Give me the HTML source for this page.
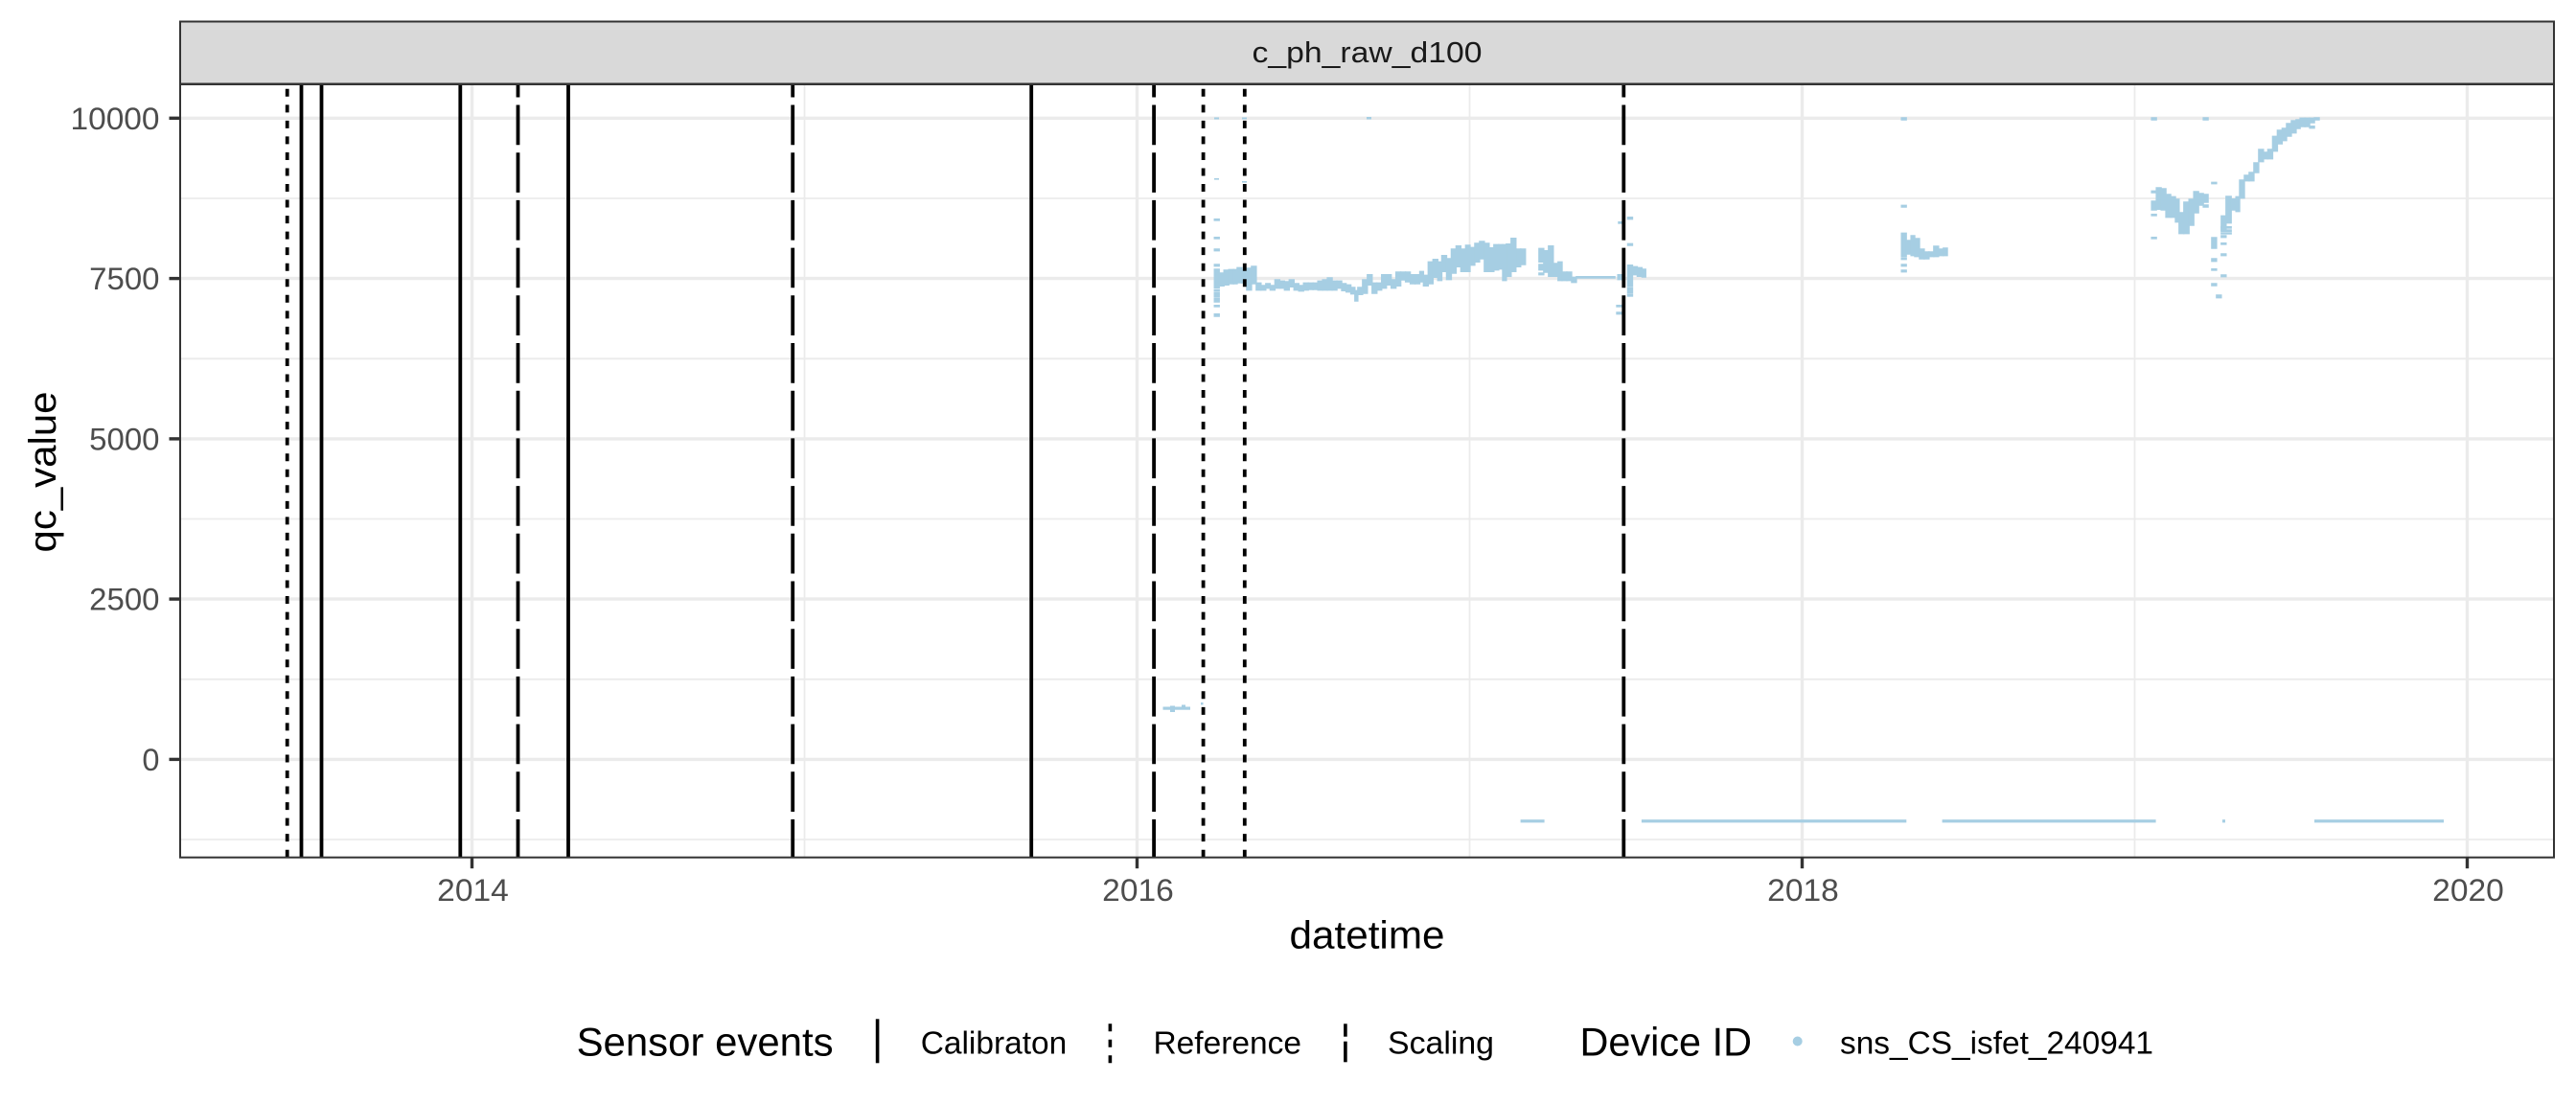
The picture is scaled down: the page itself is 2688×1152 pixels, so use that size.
<!DOCTYPE html>
<html><head><meta charset="utf-8"><style>
html,body{margin:0;padding:0;background:#fff;}
svg{display:block;}
text{font-family:"Liberation Sans",Arial,sans-serif;}
.d rect{stroke:#A6CEE3;stroke-width:1.4px;vector-effect:non-scaling-stroke;}
</style></head><body>
<svg width="2688" height="1152" viewBox="0 0 2688 1152" xmlns="http://www.w3.org/2000/svg">
<rect x="0" y="0" width="2688" height="1152" fill="#fff"/>
<g stroke="#EBEBEB" stroke-width="1.8">
<line x1="188" x2="2665" y1="207" y2="207"/>
<line x1="188" x2="2665" y1="374.3" y2="374.3"/>
<line x1="188" x2="2665" y1="541.5" y2="541.5"/>
<line x1="188" x2="2665" y1="708.8" y2="708.8"/>
<line x1="188" x2="2665" y1="876" y2="876"/>
<line x1="839.5" x2="839.5" y1="88" y2="894.7"/>
<line x1="1533.5" x2="1533.5" y1="88" y2="894.7"/>
<line x1="2227.5" x2="2227.5" y1="88" y2="894.7"/>
</g>
<g stroke="#EBEBEB" stroke-width="3.4">
<line x1="188" x2="2665" y1="123.3" y2="123.3"/>
<line x1="188" x2="2665" y1="290.6" y2="290.6"/>
<line x1="188" x2="2665" y1="457.9" y2="457.9"/>
<line x1="188" x2="2665" y1="625.1" y2="625.1"/>
<line x1="188" x2="2665" y1="792.4" y2="792.4"/>
<line x1="492.5" x2="492.5" y1="88" y2="894.7"/>
<line x1="1186.5" x2="1186.5" y1="88" y2="894.7"/>
<line x1="1880.5" x2="1880.5" y1="88" y2="894.7"/>
<line x1="2574.5" x2="2574.5" y1="88" y2="894.7"/>
</g>
<g fill="#A6CEE3">
<rect x="1213.5" y="737.5" width="28.5" height="3.2"/>
<rect x="1221" y="736.5" width="5" height="6.5"/>
<rect x="1233" y="735.5" width="4" height="4.5"/>
<rect x="1253" y="733" width="2.5" height="2.5"/>
<rect x="1586.6" y="855.2" width="25" height="3.2"/>
<rect x="1712.9" y="855.2" width="276.4" height="3.2"/>
<rect x="2026.6" y="855.2" width="223" height="3.2"/>
<rect x="2319" y="855.2" width="3" height="3.2"/>
<rect x="2415" y="855.2" width="135" height="3.2"/>
<rect x="1426" y="122" width="5" height="2.5"/>
<rect x="1267" y="122.5" width="5" height="2"/>
<rect x="1296" y="122.5" width="5" height="2"/>
<rect x="1267" y="186" width="5" height="1.6"/>
<rect x="1296" y="189" width="5" height="1.6"/>
<g class="d" transform="translate(1180,220) scale(0.38265,0.33333)">
<rect x="228" y="183" width="13" height="59"/>
<rect x="228" y="168" width="13" height="5"/>
<rect x="228" y="120" width="13" height="5"/>
<rect x="228" y="83" width="13" height="4"/>
<rect x="228" y="26" width="13" height="4"/>
<rect x="228" y="248" width="13" height="4"/>
<rect x="228" y="257" width="13" height="5"/>
<rect x="228" y="265" width="13" height="5"/>
<rect x="228" y="275" width="13" height="10"/>
<rect x="228" y="296" width="13" height="4"/>
<rect x="228" y="323" width="13" height="7"/>
<rect x="241" y="195" width="13" height="40"/>
<rect x="254" y="186" width="13" height="46"/>
<rect x="267" y="184" width="13" height="44"/>
<rect x="280" y="184" width="10" height="44"/>
<rect x="290" y="178" width="13" height="47"/>
<rect x="303" y="185" width="13" height="40"/>
<rect x="316" y="180" width="13" height="68"/>
<rect x="329" y="174" width="13" height="54"/>
<rect x="342" y="226" width="13" height="22"/>
<rect x="355" y="234" width="13" height="14"/>
<rect x="368" y="228" width="12" height="14"/>
<rect x="380" y="234" width="13" height="14"/>
<rect x="393" y="216" width="13" height="26"/>
<rect x="406" y="220" width="13" height="22"/>
<rect x="419" y="222" width="13" height="26"/>
<rect x="432" y="216" width="13" height="22"/>
<rect x="445" y="228" width="13" height="20"/>
<rect x="458" y="234" width="13" height="17"/>
<rect x="471" y="226" width="13" height="22"/>
<rect x="484" y="226" width="13" height="20"/>
<rect x="497" y="226" width="13" height="20"/>
<rect x="510" y="220" width="13" height="28"/>
<rect x="523" y="216" width="13" height="32"/>
<rect x="536" y="210" width="13" height="38"/>
<rect x="549" y="220" width="13" height="28"/>
<rect x="562" y="220" width="13" height="22"/>
<rect x="575" y="228" width="12" height="22"/>
<rect x="587" y="232" width="13" height="22"/>
<rect x="600" y="240" width="11" height="20"/>
<rect x="611" y="250" width="8" height="32"/>
<rect x="619" y="240" width="13" height="22"/>
<rect x="632" y="216" width="13" height="42"/>
<rect x="645" y="200" width="13" height="32"/>
<rect x="658" y="226" width="13" height="32"/>
<rect x="671" y="226" width="13" height="22"/>
<rect x="684" y="200" width="13" height="42"/>
<rect x="697" y="200" width="13" height="32"/>
<rect x="710" y="216" width="13" height="26"/>
<rect x="723" y="192" width="13" height="43"/>
<rect x="736" y="192" width="13" height="24"/>
<rect x="749" y="192" width="13" height="30"/>
<rect x="762" y="200" width="13" height="28"/>
<rect x="775" y="200" width="13" height="28"/>
<rect x="788" y="190" width="10" height="32"/>
<rect x="798" y="202" width="13" height="33"/>
<rect x="811" y="160" width="13" height="68"/>
<rect x="824" y="152" width="13" height="56"/>
<rect x="837" y="160" width="11" height="58"/>
<rect x="848" y="140" width="13" height="50"/>
<rect x="861" y="150" width="13" height="65"/>
<rect x="874" y="120" width="13" height="75"/>
<rect x="887" y="110" width="13" height="65"/>
<rect x="900" y="120" width="13" height="70"/>
<rect x="913" y="108" width="12" height="82"/>
<rect x="925" y="115" width="13" height="55"/>
<rect x="938" y="102" width="13" height="58"/>
<rect x="951" y="96" width="13" height="54"/>
<rect x="964" y="102" width="13" height="88"/>
<rect x="977" y="116" width="13" height="74"/>
<rect x="990" y="106" width="13" height="79"/>
<rect x="1003" y="106" width="11" height="76"/>
<rect x="1014" y="106" width="10" height="112"/>
<rect x="1024" y="104" width="13" height="101"/>
<rect x="1037" y="86" width="13" height="104"/>
<rect x="1050" y="120" width="13" height="55"/>
<rect x="1063" y="120" width="13" height="48"/>
<rect x="1113" y="118" width="13" height="42"/>
<rect x="1113" y="168" width="13" height="17"/>
<rect x="1113" y="195" width="13" height="5"/>
<rect x="1126" y="125" width="13" height="67"/>
<rect x="1139" y="110" width="13" height="95"/>
<rect x="1152" y="165" width="13" height="40"/>
<rect x="1165" y="160" width="11" height="58"/>
<rect x="1176" y="192" width="13" height="26"/>
<rect x="1189" y="192" width="13" height="26"/>
<rect x="1202" y="208" width="13" height="16"/>
<rect x="1215" y="206" width="105" height="4"/>
<rect x="1328" y="200" width="15" height="15"/>
<rect x="1330" y="35" width="10" height="4"/>
<rect x="1325" y="296" width="15" height="4"/>
<rect x="1325" y="318" width="15" height="5"/>
<rect x="1355" y="170" width="13" height="65"/>
<rect x="1355" y="240" width="13" height="18"/>
<rect x="1355" y="263" width="13" height="4"/>
<rect x="1355" y="20" width="13" height="6"/>
<rect x="1355" y="103" width="13" height="5"/>
<rect x="1368" y="175" width="13" height="25"/>
<rect x="1381" y="178" width="13" height="27"/>
<rect x="1394" y="183" width="10" height="24"/>
</g>
<g class="d" transform="translate(1900,100) scale(0.38265,0.33333)">
<rect x="220" y="430" width="13" height="73"/>
<rect x="220" y="343" width="13" height="5"/>
<rect x="220" y="508" width="13" height="4"/>
<rect x="220" y="528" width="13" height="5"/>
<rect x="220" y="546" width="13" height="5"/>
<rect x="220" y="69" width="13" height="6"/>
<rect x="233" y="453" width="13" height="42"/>
<rect x="246" y="438" width="10" height="62"/>
<rect x="256" y="447" width="13" height="56"/>
<rect x="269" y="480" width="13" height="30"/>
<rect x="282" y="489" width="13" height="21"/>
<rect x="295" y="489" width="13" height="14"/>
<rect x="308" y="471" width="13" height="32"/>
<rect x="321" y="480" width="13" height="20"/>
<rect x="334" y="477" width="11" height="23"/>
<rect x="902" y="330" width="13" height="27"/>
<rect x="902" y="298" width="13" height="5"/>
<rect x="902" y="371" width="13" height="4"/>
<rect x="902" y="443" width="13" height="4"/>
<rect x="902" y="69" width="13" height="6"/>
<rect x="915" y="288" width="13" height="67"/>
<rect x="928" y="291" width="13" height="66"/>
<rect x="941" y="309" width="13" height="71"/>
<rect x="954" y="316" width="13" height="64"/>
<rect x="967" y="324" width="10" height="71"/>
<rect x="977" y="366" width="13" height="65"/>
<rect x="990" y="333" width="14" height="98"/>
<rect x="1004" y="324" width="13" height="81"/>
<rect x="1017" y="300" width="13" height="66"/>
<rect x="1030" y="306" width="13" height="36"/>
<rect x="1043" y="309" width="13" height="24"/>
<rect x="1043" y="342" width="13" height="6"/>
<rect x="1043" y="69" width="13" height="6"/>
<rect x="1066" y="444" width="13" height="33"/>
<rect x="1066" y="271" width="13" height="4"/>
<rect x="1066" y="510" width="13" height="8"/>
<rect x="1066" y="542" width="13" height="4"/>
<rect x="1066" y="588" width="13" height="6"/>
<rect x="1079" y="624" width="13" height="8"/>
<rect x="1092" y="376" width="13" height="44"/>
<rect x="1092" y="410" width="27" height="4"/>
<rect x="1092" y="420" width="27" height="4"/>
<rect x="1092" y="429" width="27" height="3"/>
<rect x="1092" y="438" width="13" height="5"/>
<rect x="1092" y="461" width="13" height="4"/>
<rect x="1092" y="495" width="13" height="5"/>
<rect x="1092" y="561" width="13" height="5"/>
<rect x="1105" y="315" width="14" height="83"/>
<rect x="1119" y="323" width="13" height="34"/>
<rect x="1132" y="316" width="10" height="46"/>
<rect x="1142" y="264" width="13" height="56"/>
<rect x="1155" y="249" width="13" height="17"/>
<rect x="1168" y="240" width="13" height="26"/>
<rect x="1181" y="210" width="13" height="30"/>
<rect x="1194" y="168" width="13" height="38"/>
<rect x="1207" y="177" width="12" height="20"/>
<rect x="1219" y="168" width="13" height="29"/>
<rect x="1232" y="127" width="13" height="46"/>
<rect x="1245" y="108" width="13" height="42"/>
<rect x="1258" y="102" width="12" height="38"/>
<rect x="1270" y="87" width="13" height="39"/>
<rect x="1283" y="78" width="13" height="38"/>
<rect x="1296" y="75" width="11" height="27"/>
<rect x="1307" y="70" width="13" height="26"/>
<rect x="1320" y="70" width="13" height="26"/>
<rect x="1333" y="70" width="13" height="14"/>
<rect x="1333" y="95" width="13" height="6"/>
<rect x="1346" y="69" width="13" height="6"/>
</g>
</g>
<g stroke="#000" stroke-width="3.8" fill="none">
<line x1="314.5" x2="314.5" y1="894.7" y2="88"/>
<line x1="335.5" x2="335.5" y1="894.7" y2="88"/>
<line x1="480.3" x2="480.3" y1="894.7" y2="88"/>
<line x1="593" x2="593" y1="894.7" y2="88"/>
<line x1="1076.2" x2="1076.2" y1="894.7" y2="88"/>
<g stroke-dasharray="8 8.54">
<line x1="299.7" x2="299.7" y1="894.7" y2="88"/>
<line x1="1255.6" x2="1255.6" y1="894.7" y2="88"/>
<line x1="1298.8" x2="1298.8" y1="894.7" y2="88"/>
</g>
<g stroke-dasharray="41.7 8" stroke-dashoffset="2">
<line x1="540.5" x2="540.5" y1="894.7" y2="88"/>
<line x1="827.2" x2="827.2" y1="894.7" y2="88"/>
<line x1="1204.1" x2="1204.1" y1="894.7" y2="88"/>
<line x1="1694.3" x2="1694.3" y1="894.7" y2="88"/>
</g>
</g>
<rect x="188" y="88" width="2477" height="806.7" fill="none" stroke="#333333" stroke-width="2"/>
<rect x="188" y="22.5" width="2477" height="65" fill="#D9D9D9" stroke="#333333" stroke-width="2"/>
<text x="1426.5" y="65" font-size="31" fill="#1A1A1A" text-anchor="middle" textLength="240" lengthAdjust="spacingAndGlyphs">c_ph_raw_d100</text>
<g stroke="#333333" stroke-width="3.4">
<line x1="176.5" x2="188" y1="123.3" y2="123.3"/>
<line x1="176.5" x2="188" y1="290.6" y2="290.6"/>
<line x1="176.5" x2="188" y1="457.9" y2="457.9"/>
<line x1="176.5" x2="188" y1="625.1" y2="625.1"/>
<line x1="176.5" x2="188" y1="792.4" y2="792.4"/>
<line x1="492.5" x2="492.5" y1="894.7" y2="906.2"/>
<line x1="1186.5" x2="1186.5" y1="894.7" y2="906.2"/>
<line x1="1880.5" x2="1880.5" y1="894.7" y2="906.2"/>
<line x1="2574.5" x2="2574.5" y1="894.7" y2="906.2"/>
</g>
<g font-size="32.5" fill="#4D4D4D">
<text x="166.5" y="134.8" text-anchor="end" textLength="93" lengthAdjust="spacingAndGlyphs">10000</text>
<text x="166.5" y="302.1" text-anchor="end" textLength="73.3" lengthAdjust="spacingAndGlyphs">7500</text>
<text x="166.5" y="469.4" text-anchor="end" textLength="73.3" lengthAdjust="spacingAndGlyphs">5000</text>
<text x="166.5" y="636.6" text-anchor="end" textLength="73.3" lengthAdjust="spacingAndGlyphs">2500</text>
<text x="166.5" y="803.9" text-anchor="end">0</text>
<text x="493.5" y="940" text-anchor="middle" textLength="74.6" lengthAdjust="spacingAndGlyphs">2014</text>
<text x="1187.5" y="940" text-anchor="middle" textLength="74.6" lengthAdjust="spacingAndGlyphs">2016</text>
<text x="1881.5" y="940" text-anchor="middle" textLength="74.6" lengthAdjust="spacingAndGlyphs">2018</text>
<text x="2575.5" y="940" text-anchor="middle" textLength="74.6" lengthAdjust="spacingAndGlyphs">2020</text>
</g>
<text x="1426.5" y="989.3" font-size="41" fill="#000" text-anchor="middle" textLength="162" lengthAdjust="spacingAndGlyphs">datetime</text>
<text transform="translate(58,492.5) rotate(-90)" font-size="40" fill="#000" text-anchor="middle" textLength="168" lengthAdjust="spacingAndGlyphs">qc_value</text>
<text x="601.6" y="1101.5" font-size="42" fill="#000" textLength="268" lengthAdjust="spacingAndGlyphs">Sensor events</text>
<g stroke="#000" stroke-width="3.6">
<line x1="915.6" x2="915.6" y1="1063.3" y2="1109.3"/>
<line x1="1158.4" x2="1158.4" y1="1109.3" y2="1063.3" stroke-dasharray="8 8.5"/>
<line x1="1403.9" x2="1403.9" y1="1068.3" y2="1081.7"/>
<line x1="1403.9" x2="1403.9" y1="1086.7" y2="1108.3"/>
</g>
<g font-size="33.5" fill="#000">
<text x="960.7" y="1099.5" textLength="152.6" lengthAdjust="spacingAndGlyphs">Calibraton</text>
<text x="1203.5" y="1099.5" textLength="154.5" lengthAdjust="spacingAndGlyphs">Reference</text>
<text x="1448" y="1099.5" textLength="111" lengthAdjust="spacingAndGlyphs">Scaling</text>
<text x="1920" y="1099.5" textLength="327" lengthAdjust="spacingAndGlyphs">sns_CS_isfet_240941</text>
</g>
<text x="1648.5" y="1101.5" font-size="42" fill="#000" textLength="179.5" lengthAdjust="spacingAndGlyphs">Device ID</text>
<circle cx="1875.7" cy="1086.5" r="5" fill="#A6CEE3"/>
</svg>
</body></html>
